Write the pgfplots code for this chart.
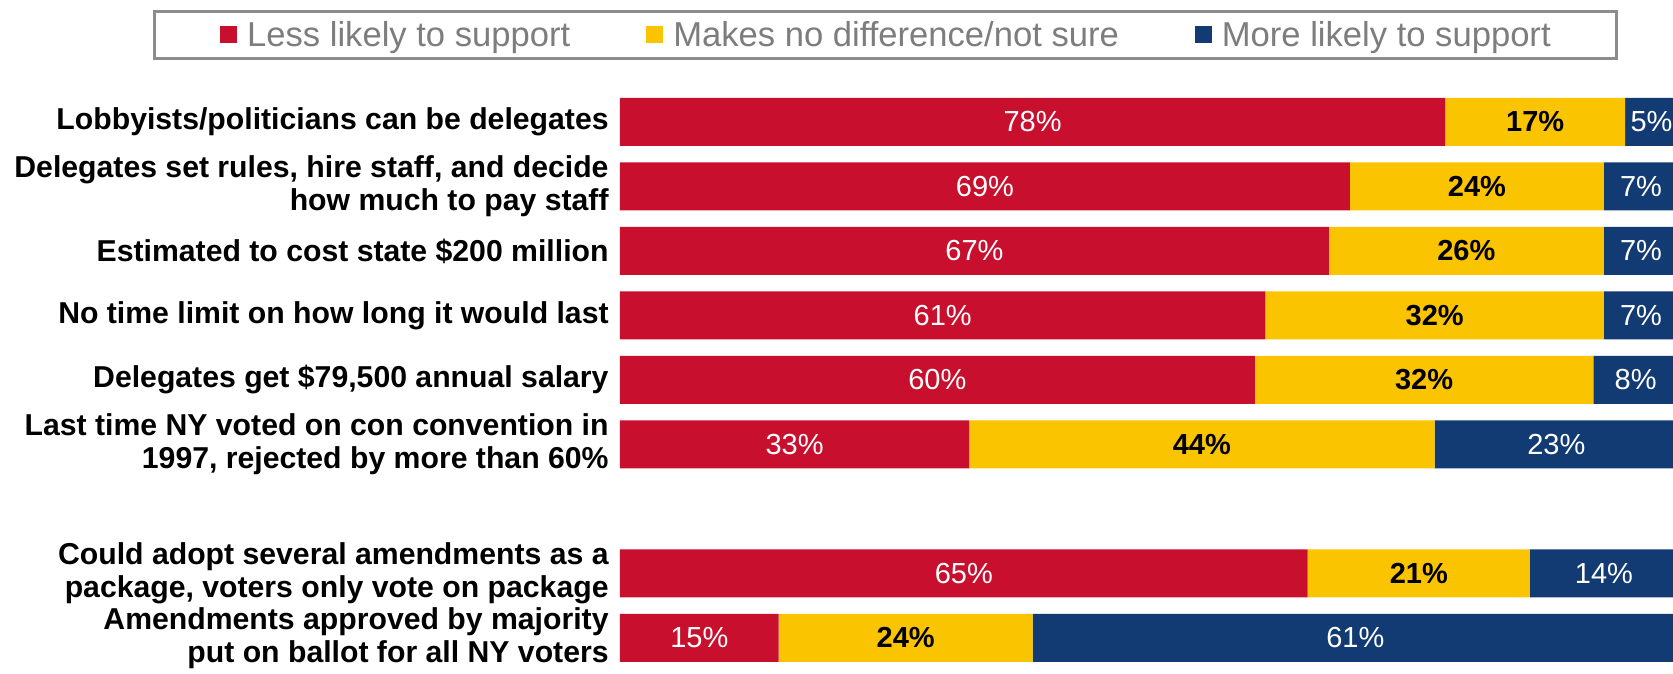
\documentclass[border=0pt]{standalone}
\usepackage{pgfplots}
\pgfplotsset{compat=1.18}
\usepackage{pgfplotstable}
\usepackage{fontspec}
\setmainfont{Liberation Sans}
\definecolor{cred}{RGB}{200,16,46}
\definecolor{cyel}{RGB}{250,196,0}
\definecolor{cblue}{RGB}{18,58,115}
\definecolor{lgray}{RGB}{125,125,125}
\definecolor{bgray}{RGB}{140,140,140}

\pgfplotstableread{
y less none more
0 78 17 5
-1 69 24 7
-2 67 26 7
-3 61 32 7
-4 60 32 8
-5 33 44 23
-7 65 21 14
-8 15 24 61
}\data

\pgfplotsset{common/.style={scale only axis, width=526.5pt, height=336.5pt,
  xmin=0, xmax=99.53, ymin=-8.543, ymax=1.891, at={(0,0)}, anchor=south west}}

\begin{document}
\begin{tikzpicture}
\begin{axis}[common, name=ax, xbar stacked, bar width=24pt,
  axis line style={draw=none}, xtick=\empty,
  ytick={0,-1,-2,-3,-4,-5,-7,-8},
  yticklabels={{Lobbyists/politicians can be delegates},
    {Delegates set rules, hire staff, and decide\\how much to pay staff},
    {Estimated to cost state \$200 million},
    {No time limit on how long it would last},
    {Delegates get \$79,500 annual salary},
    {Last time NY voted on con convention in\\1997, rejected by more than 60\%},
    {Could adopt several amendments as a\\package, voters only vote on package},
    {Amendments approved by majority\\put on ballot for all NY voters}},
  major tick length=0pt,
  yticklabel style={font=\bfseries\fontsize{15.1}{16.5}\selectfont, align=right, inner sep=0pt, xshift=-5.5pt},
  legend style={at={(0.2521,0.948)}, anchor=center, draw=bgray, line width=1.5pt,
    inner xsep=33pt, inner ysep=4.5pt, column sep=5pt,
    /tikz/every even column/.append style={column sep=38pt},
    font=\fontsize{17.3}{20}\selectfont, text=lgray, nodes={inner sep=0pt}},
  legend columns=3,
  legend image code/.code={\fill[#1] (0pt,-4.25pt) rectangle (8.5pt,4.25pt);},
]
\addplot[fill=cred, draw=none] table[x=less,y=y]{\data};
\addplot[fill=cyel, draw=none] table[x=none,y=y]{\data};
\addplot[fill=cblue, draw=none] table[x=more,y=y]{\data};
\legend{Less likely to support, Makes no difference/not sure, More likely to support}
\end{axis}
\begin{axis}[common, hide axis,
  /pgf/number format/assume math mode=true,
]
\addplot[draw=none, point meta=explicit,
  nodes near coords={\pgfmathprintnumber{\pgfplotspointmeta}\%},
  every node near coord/.append style={anchor=center, text=white, font=\fontsize{14.5}{16}\selectfont}]
  table[x expr=\thisrow{less}/2, y=y, meta=less]{\data};
\addplot[draw=none, point meta=explicit,
  nodes near coords={\pgfmathprintnumber{\pgfplotspointmeta}\%},
  every node near coord/.append style={anchor=center, text=black, font=\bfseries\fontsize{14.5}{16}\selectfont}]
  table[x expr=\thisrow{less}+\thisrow{none}/2, y=y, meta=none]{\data};
\addplot[draw=none, point meta=explicit,
  nodes near coords={\pgfmathprintnumber{\pgfplotspointmeta}\%},
  every node near coord/.append style={anchor=center, text=white, font=\fontsize{14.5}{16}\selectfont}]
  table[x expr=\thisrow{less}+\thisrow{none}+\thisrow{more}/2, y=y, meta=more]{\data};
\end{axis}
\pgfresetboundingbox
\path ([xshift=-310pt]ax.south west) rectangle (ax.north east);
\end{tikzpicture}
\end{document}
